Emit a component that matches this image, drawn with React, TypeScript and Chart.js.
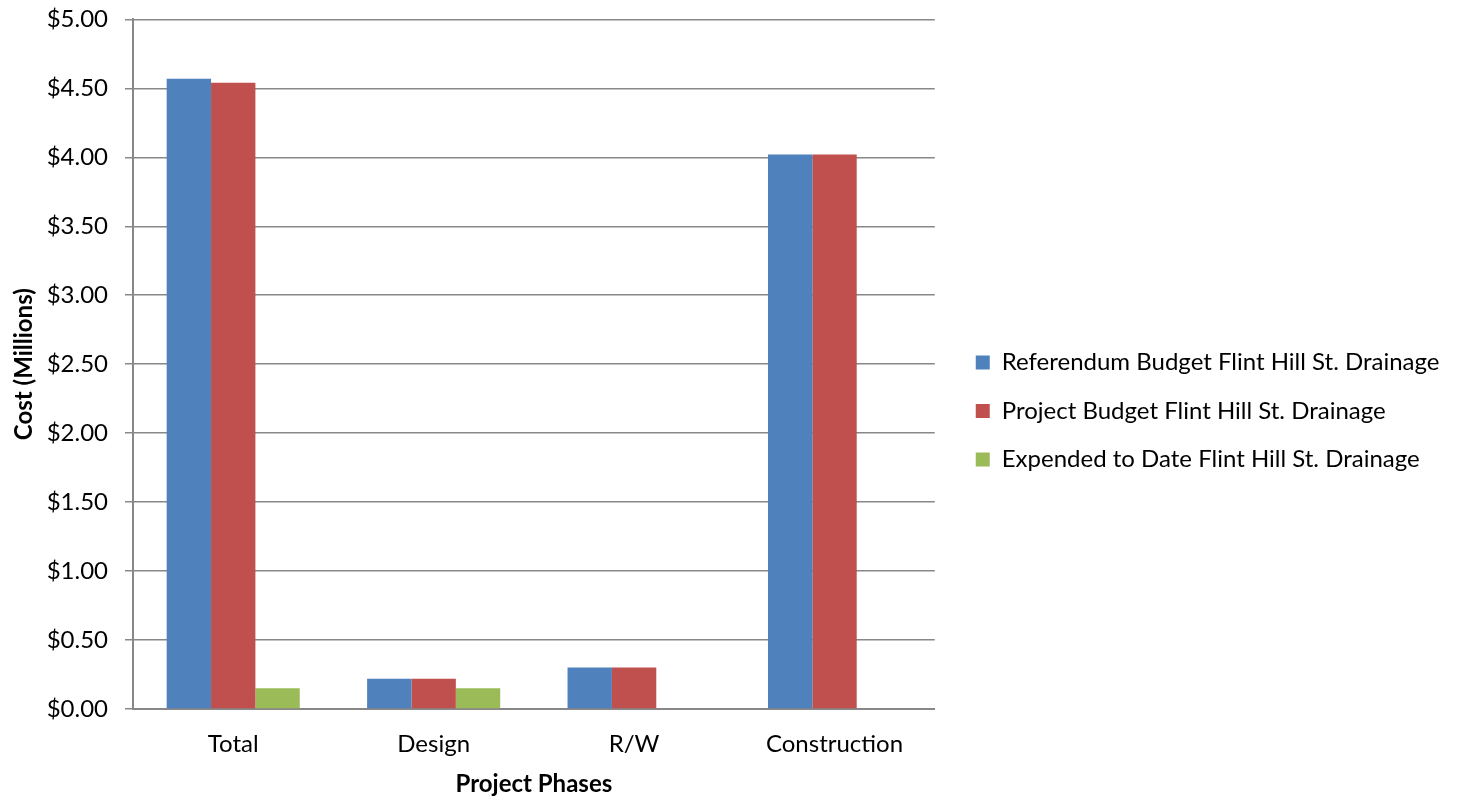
import React, { useEffect, useRef } from "react";
import { Chart, registerables } from "chart.js";

Chart.register(...registerables);

const categories = ["Total", "Design", "R/W", "Construction"];
const referendumBudget = [4.57, 0.22, 0.3, 4.02];
const projectBudget = [4.54, 0.22, 0.3, 4.02];
const expendedToDate = [0.15, 0.15, 0, 0];
const seriesNames = [
  "Referendum Budget Flint Hill St. Drainage",
  "Project Budget Flint Hill St. Drainage",
  "Expended to Date Flint Hill St. Drainage",
];

const FONT = "Lato";
const FS = 24;
const LEGEND_PAD = 24.5;

const legendShift = {
  id: "legendShift",
  afterLayout(chart: any) {
    const lg = chart.legend;
    if (!lg) return;
    const dx = 41 - LEGEND_PAD + chart.chartArea.right - lg.left;
    const dy = 11.5;
    lg.left += dx;
    lg.right += dx;
    lg.top += dy;
    lg.bottom += dy;
  },
};

export default function App() {
  const ref = useRef<HTMLCanvasElement | null>(null);
  useEffect(() => {
    let chart: any = null;
    let cancelled = false;
    const create = () => {
      if (cancelled || !ref.current) return;
      if (chart) chart.destroy();
      chart = new Chart(ref.current, {
        type: "bar",
        data: {
          labels: categories,
          datasets: [
            { label: seriesNames[0], data: referendumBudget, backgroundColor: "#4F81BD" },
            { label: seriesNames[1], data: projectBudget, backgroundColor: "#C0504D" },
            { label: seriesNames[2], data: expendedToDate, backgroundColor: "#9BBB59" },
          ],
        },
        options: {
          animation: false,
          responsive: false,
          maintainAspectRatio: false,
          layout: { padding: { top: 0, right: 24, bottom: 0, left: 0 } },
          datasets: { bar: { categoryPercentage: 0.664, barPercentage: 1 } },
          plugins: {
            tooltip: { enabled: false },
            legend: {
              position: "right",
              align: "center",
              maxWidth: 800,
              labels: {
                boxWidth: 14,
                boxHeight: 14,
                padding: LEGEND_PAD,
                color: "#000",
                font: { family: FONT, size: FS },
              },
            },
          },
          scales: {
            x: {
              grid: { display: false },
              border: { display: true, color: "#888888", width: 2 },
              ticks: { color: "#000", font: { family: FONT, size: FS }, padding: 13 },
              title: {
                display: true,
                text: "Project Phases",
                color: "#000",
                font: { family: FONT, size: FS, weight: "bold" },
                padding: { top: 0, bottom: 0 },
              },
              afterFit: (s: any) => {
                s.height = 90;
              },
            },
            y: {
              min: 0,
              max: 5,
              ticks: {
                stepSize: 0.5,
                color: "#000",
                font: { family: FONT, size: FS, lineHeight: 0.2 },
                padding: 17,
                callback: (v: any) => "$" + Number(v).toFixed(2),
              },
              grid: { color: "#888888", lineWidth: 1.5, tickLength: 8 },
              border: { display: true, color: "#888888", width: 2 },
              title: {
                display: true,
                text: "Cost (Millions)",
                color: "#000",
                font: { family: FONT, size: FS, weight: "bold" },
                padding: { top: 10, bottom: 0 },
              },
              afterFit: (s: any) => {
                s.width = 133;
              },
            },
          },
        },
        plugins: [legendShift],
      });
    };
    const fonts: any = (document as any).fonts;
    if (fonts && fonts.load) {
      Promise.all([
        fonts.load(`${FS}px ${FONT}`),
        fonts.load(`bold ${FS}px ${FONT}`),
      ])
        .catch(() => null)
        .then(() => create());
    } else {
      create();
    }
    return () => {
      cancelled = true;
      if (chart) chart.destroy();
    };
  }, []);
  return (
    <div style={{ position: "fixed", left: 0, top: 0, width: 1457, height: 799, background: "#fff" }}>
      <canvas ref={ref} width={1457} height={799} style={{ display: "block" }} />
    </div>
  );
}
